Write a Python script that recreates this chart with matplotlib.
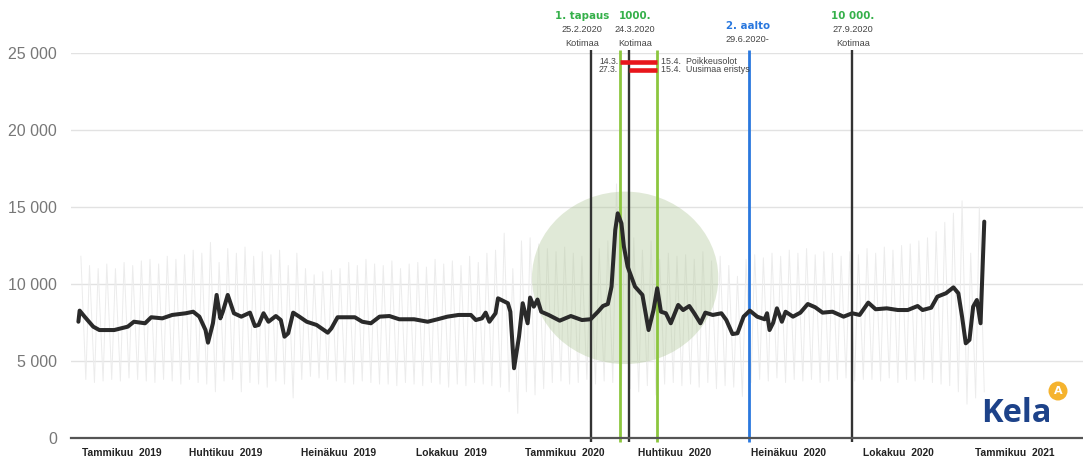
import datetime as dt
import numpy as np
import matplotlib
matplotlib.use("Agg")
import matplotlib.pyplot as plt
import matplotlib.dates as mdates
from matplotlib.patches import Ellipse, Circle
from matplotlib.transforms import IdentityTransform

# ---------------- data ----------------
START = dt.date(2019, 1, 1)

# 7-day smoothed series (day offset from 1.1.2019, value)
trend_days = [5, 6, 10, 17, 22, 34, 45, 50, 59, 64, 73, 81, 92, 98, 103, 108, 110,
              114, 117, 120, 122, 126, 131, 137, 144, 148, 151, 155, 159, 165, 169,
              172, 175, 179, 184, 190, 198, 204, 207, 210, 215, 221, 229, 235, 242,
              249, 257, 265, 277, 288, 296, 304, 313, 323, 327, 332, 335, 338, 343,
              345, 353, 355, 358, 362, 365, 369, 371, 374, 377, 380, 386, 395, 404,
              413, 420, 426, 430, 434, 437, 440, 442, 445, 447, 450, 456, 462, 467,
              471, 474, 477, 481, 485, 491, 495, 500, 504, 509, 513, 519, 526, 530,
              535, 539, 544, 549, 555, 561, 563, 565, 568, 571, 575, 578, 584, 590,
              596, 602, 608, 616, 625, 632, 638, 645, 651, 660, 669, 677, 685, 689,
              696, 701, 708, 714, 718, 721, 724, 727, 730, 733, 736, 739]
trend_values = [7550, 8270, 7880, 7230, 7010, 7010, 7230, 7550, 7450, 7840, 7770, 7990,
                8100, 8200, 7880, 7010, 6190, 7450, 9290, 7770, 8200, 9290, 8100, 7880,
                8140, 7270, 7340, 8100, 7550, 7920, 7660, 6580, 6800, 8140, 7880, 7550,
                7340, 7010, 6840, 7120, 7840, 7840, 7840, 7550, 7450, 7880, 7920, 7710,
                7710, 7550, 7710, 7880, 7990, 7990, 7660, 7770, 8140, 7550, 8100, 9070,
                8750, 8200, 4530, 6580, 8750, 7450, 9120, 8530, 8990, 8200, 7990, 7620,
                7920, 7660, 7710, 8200, 8570, 8700, 9830, 13510, 14590, 13940, 12430,
                11130, 9830, 9290, 7010, 8310, 9720, 8200, 8100, 7450, 8640, 8310, 8570,
                8100, 7450, 8140, 7990, 8100, 7660, 6750, 6800, 7880, 8270, 7880, 7710,
                8100, 7010, 7490, 8420, 7550, 8200, 7880, 8140, 8700, 8490, 8140, 8200,
                7880, 8100, 7990, 8790, 8360, 8420, 8310, 8310, 8570, 8310, 8460, 9180,
                9400, 9780, 9400, 7880, 6150, 6370, 8530, 8960, 7450, 14050]

# daily values (faint background): weekly weekday high / weekend low, weeks from 7.1.2019
week_hi = [11.8, 11.2, 11.0, 11.3, 11.0, 11.4, 11.2, 11.5, 11.6, 11.3, 11.8, 11.6, 11.9,
           12.2, 12.0, 12.7, 11.4, 12.3, 12.0, 12.4, 11.8, 12.1, 11.9, 12.2, 11.2, 12.0,
           11.0, 10.6, 10.8, 10.9, 11.0, 11.4, 11.2, 11.6, 11.3, 11.2, 11.5, 11.0, 11.3,
           11.4, 11.1, 11.6, 11.3, 11.5, 11.2, 11.8, 11.4, 12.0, 12.2, 13.3, 11.0, 12.8,
           13.0, 12.6, 12.3, 12.1, 12.4, 12.0, 11.8, 12.2, 12.3, 12.8, 16.5, 15.0, 13.0,
           12.2, 12.8, 11.6, 12.0, 11.8, 11.9, 11.6, 12.1, 11.5, 11.8, 11.2, 10.5, 11.6,
           11.9, 11.7, 12.0, 11.8, 12.2, 12.0, 12.3, 11.9, 12.1, 12.0, 11.8, 12.1, 11.9,
           12.3, 12.0, 12.4, 12.2, 12.5, 12.6, 12.8, 13.0, 13.4, 14.0, 14.6, 15.4, 12.0,
           15.0]
week_lo = [3.8, 3.6, 3.7, 3.8, 3.7, 3.9, 3.8, 3.7, 3.6, 3.8, 3.7, 3.5, 3.8,
           3.6, 3.5, 3.0, 3.7, 3.8, 3.0, 3.6, 3.5, 3.3, 3.7, 3.5, 2.6, 3.8,
           4.0, 3.9, 3.8, 3.7, 3.6, 3.5, 3.7, 3.6, 3.5, 3.5, 3.4, 3.6, 3.5,
           3.4, 3.6, 3.5, 3.3, 3.5, 3.4, 3.6, 3.5, 3.4, 3.3, 3.0, 1.6, 3.0,
           2.8, 3.2, 3.6, 3.7, 3.5, 3.6, 3.8, 3.5, 3.7, 3.6, 3.4, 3.2, 3.0,
           3.4, 2.8, 3.5, 3.6, 3.4, 3.5, 3.3, 3.6, 3.2, 3.4, 3.3, 2.7, 3.6,
           3.8, 3.7, 3.9, 3.6, 3.8, 3.7, 3.8, 3.6, 3.7, 3.8, 3.9, 3.7, 3.8,
           3.8, 3.7, 3.9, 3.6, 3.8, 3.7, 3.8, 3.6, 3.5, 3.4, 3.0, 2.2, 2.6,
           3.0]
first_week = dt.date(2019, 1, 7)

y_ticks = [0, 5000, 10000, 15000, 20000, 25000]
month_labels = ["Tammikuu  2019", "Huhtikuu  2019", "Heinäkuu  2019", "Lokakuu  2019",
                "Tammikuu  2020", "Huhtikuu  2020", "Heinäkuu  2020", "Lokakuu  2020",
                "Tammikuu  2021"]
month_label_dates = ["2019-02-10", "2019-05-05", "2019-08-05", "2019-11-04",
                     "2020-02-04", "2020-05-03", "2020-08-03", "2020-10-31",
                     "2021-02-03"]

# event lines (date where drawn, colour key)
event_dates = ["2020-02-25", "2020-03-20", "2020-03-27", "2020-04-19", "2020-07-02", "2020-09-24"]
event_kinds = ["black", "green", "black", "green", "blue", "black"]

# headers above the chart: (event index, title, sub lines, colour key)
headers = [(0, "1. tapaus", ["25.2.2020", "Kotimaa"], "green"),
           (2, "1000.", ["24.3.2020", "Kotimaa"], "green"),
           (4, "2. aalto", ["29.6.2020-"], "blue"),
           (5, "10 000.", ["27.9.2020", "Kotimaa"], "green")]

# restriction periods (start event idx, end event idx, left label, right label, level)
periods = [(1, 3, "14.3.", "15.4.  Poikkeusolot", 24420),
           (2, 3, "27.3.", "15.4.  Uusimaa eristys", 23900)]

COLORS = {"black": "#333333", "green": "#8cc63f", "blue": "#2a78de"}
TITLE_COLORS = {"green": "#35b04a", "blue": "#2a78de"}

# ---------------- figure ----------------
W, H = 1083, 459
fig = plt.figure(figsize=(W / 100, H / 100), dpi=100)
ax = fig.add_axes([71 / W, 21 / H, (W - 71) / W, 385 / H])

base = mdates.date2num(START)
tx = base + np.array(trend_days, dtype=float)
ty = np.array(trend_values, dtype=float)

# faint daily zigzag
fx, fy = [], []
wb = mdates.date2num(first_week)
for i, (h, l) in enumerate(zip(week_hi, week_lo)):
    fx += [wb + 7 * i + 1, wb + 7 * i + 5]
    fy += [h * 1000, l * 1000]
ax.plot(fx, fy, color="#ececec", lw=0.7, zorder=1)

# highlight circle
circ_center = mdates.date2num(dt.date(2020, 3, 24))
ax.add_patch(Ellipse((circ_center, 10400), 151, 11200, facecolor="#afc696",
                     alpha=0.38, edgecolor="none", zorder=2))

# event lines
ev = [mdates.date2num(np.datetime64(d).astype(dt.date)) for d in event_dates]
for x, k in zip(ev, event_kinds):
    ax.vlines(x, -250, 25200, color=COLORS[k], lw=1.7 if k == "black" else 2.0,
              zorder=3, clip_on=False)

# trend line
ax.plot(tx, ty, color="#2a2a2a", lw=2.9, solid_joinstyle="round",
        solid_capstyle="round", zorder=5)

# restriction bars
for s, e, ll, rl, lev in periods:
    ax.hlines(lev, ev[s], ev[e], color="#e8161c", lw=3.3, zorder=6, clip_on=False)
    ax.annotate(ll, (ev[1], lev), xytext=(-1.5, 0), textcoords="offset points",
                ha="right", va="center", fontsize=6.2, color="#444444",
                family="Liberation Sans", annotation_clip=False)
    ax.annotate(rl, (ev[3], lev), xytext=(2.5, 0), textcoords="offset points",
                ha="left", va="center", fontsize=6.4, color="#444444",
                family="Liberation Sans", annotation_clip=False)

# headers
offsets = {0: -6, 2: 4.5, 4: -0.5, 5: 0.5}
for idx, title, subs, ck in headers:
    x = ev[idx]
    ty0 = H - (26 if ck == "blue" else 16)
    ax.annotate(title, xy=(x, ty0), xycoords=("data", "figure pixels"),
                xytext=(offsets[idx], 0), textcoords="offset points",
                ha="center", va="center", fontsize=7.4, fontweight="bold",
                color=TITLE_COLORS[ck], family="DejaVu Sans", annotation_clip=False)
    for j, s in enumerate(subs):
        ax.annotate(s, xy=(x, ty0 - 13.5 * (j + 1)), xycoords=("data", "figure pixels"),
                    xytext=(offsets[idx], 0), textcoords="offset points",
                    ha="center", va="center", fontsize=6.6, color="#444444",
                    family="Liberation Sans", annotation_clip=False)

# axes styling
ax.set_xlim(mdates.date2num(dt.date(2018, 12, 31)), mdates.date2num(dt.date(2021, 3, 30)))
ax.set_ylim(0, 25000)
ax.set_yticks(y_ticks)
ax.set_yticklabels([f"{v:,}".replace(",", " ") for v in y_ticks])
ax.yaxis.grid(True, color="#e2e2e2", lw=1.0, zorder=0)
ax.set_axisbelow(True)
ax.tick_params(axis="y", length=0, pad=10, labelsize=11.5, labelcolor="#777777")
for lab in ax.get_yticklabels():
    lab.set_family("Liberation Sans")

ax.set_xticks([mdates.date2num(np.datetime64(d).astype(dt.date)) for d in month_label_dates])
ax.set_xticklabels(month_labels)
ax.tick_params(axis="x", length=0, pad=7, labelsize=7.4, labelcolor="#222222")
for lab in ax.get_xticklabels():
    lab.set_family("Liberation Sans")
    lab.set_fontweight("bold")

for sp in ["top", "right", "left"]:
    ax.spines[sp].set_visible(False)
ax.spines["bottom"].set_color("#555555")
ax.spines["bottom"].set_linewidth(1.6)
ax.spines["bottom"].set_zorder(4)

# Kela logo
fig.text(981 / W, (H - 421.5) / H, "Kela", fontsize=23.5, fontweight="bold",
         color="#1d4289", family="Open Sans", ha="left", va="baseline")
fig.add_artist(Circle((1058, H - 391), 9.5, transform=IdentityTransform(),
                      facecolor="#f5b32e", edgecolor="none"))
fig.text(1058 / W, (H - 391) / H, "A", fontsize=8, fontweight="bold", color="white",
         family="DejaVu Sans", ha="center", va="center")

fig.savefig("out.png", dpi=100)
